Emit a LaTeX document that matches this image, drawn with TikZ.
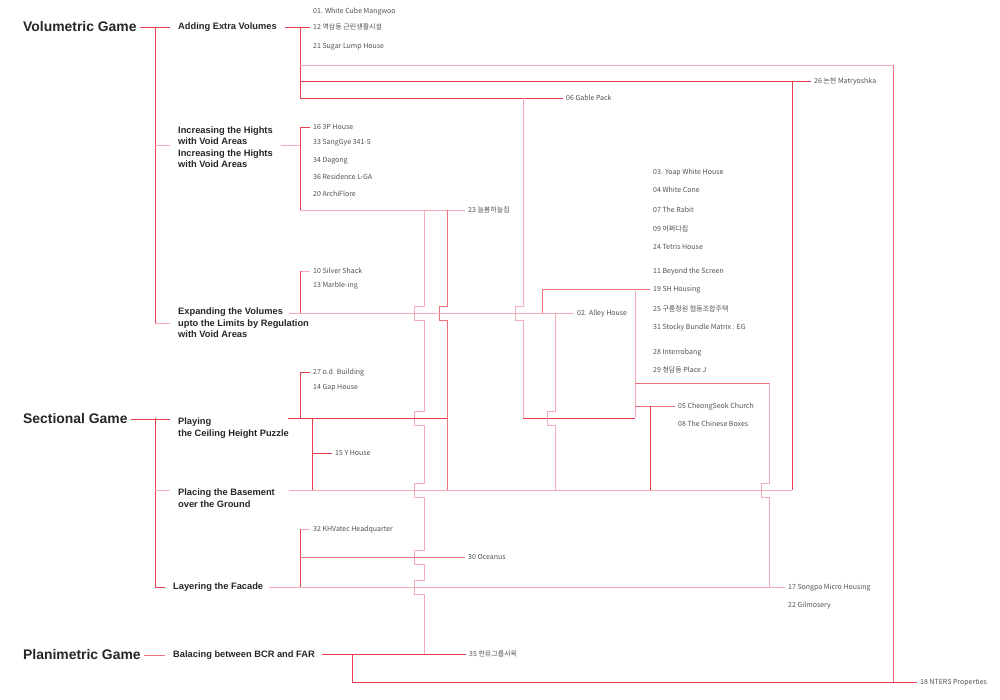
\documentclass[tikz,border=0pt]{standalone}
\usepackage{fontspec}
\setmainfont{Liberation Sans}
\newfontfamily\krfont{Noto Sans CJK KR}
\usetikzlibrary{positioning,calc}

\definecolor{strong}{RGB}{230,60,76}
\definecolor{mid}{RGB}{238,112,126}
\definecolor{soft}{RGB}{246,172,182}
\definecolor{itemgray}{RGB}{80,80,80}

\begin{document}
\begin{tikzpicture}[x=1pt, y=-1pt,
    game/.style={anchor=west, inner xsep=3pt, inner ysep=0pt, font=\bfseries\fontsize{13.9}{16}\selectfont, text=black!85},
    theme/.style={anchor=west, inner xsep=8pt, inner ysep=0pt, align=left, font=\bfseries\fontsize{9.3}{11.5}\selectfont, text=black!85},
    item/.style={anchor=west, inner xsep=3pt, inner ysep=0pt, text height=5pt, text depth=0pt, font=\krfont\fontsize{7}{8}\selectfont, text=itemgray},
    hard/.style={draw=strong, line width=1pt},
    half/.style={draw=mid, line width=1pt},
    faint/.style={draw=soft, line width=1pt}
]
\useasboundingbox (0,0) rectangle (1000,699);

% games
\node[game] (vol) at (20,27) {Volumetric Game};
\node[game] (sec) at (20,419) {Sectional Game};
\node[game] (pla) at (20,655) {Planimetric Game};

% themes
\node[theme] (add) at (170,27) {Adding Extra Volumes};
\node[theme] (inc) at (170,147) {Increasing the Hights\\with Void Areas\\Increasing the Hights\\with Void Areas};
\node[theme] (exp) at (170,323) {Expanding the Volumes\\upto the Limits by Regulation\\with Void Areas};
\node[theme] (ply) at (170,428) {Playing\\the Ceiling Height Puzzle};
\node[theme] (bas) at (170,498) {Placing the Basement\\over the Ground};
\node[theme] (fac) at (165,587) {Layering the Facade};
\node[theme] (bal) at (165,655) {Balacing between BCR and FAR};

% projects
\node[item] (p01) at (310,11) {01. White Cube Mangwoo};
\node[item] (p12) at (310,27) {12 역삼동 근린생활시설};
\node[item] (p21) at (310,46) {21 Sugar Lump House};
\node[item] (p26) at (811,81) {26 논현 Matryoshka};
\node[item] (p06) at (563,98) {06 Gable Pack};
\node[item] (p16) at (310,127) {16 3P House};
\node[item] (p33) at (310,142) {33 SangGye 341-5};
\node[item] (p34) at (310,160) {34 Dagong};
\node[item] (p36) at (310,177) {36 Residence L-GA};
\node[item] (p20) at (310,194) {20 ArchiFlore};
\node[item] (p23) at (465,210) {23 늘봄하늘집};
\node[item] (p10) at (310,271) {10 Silver Shack};
\node[item] (p13) at (310,285) {13 Marble-ing};
\node[item] (p02) at (574,313) {02. Alley House};
\node[item] (p03) at (650,172) {03. Yoap White House};
\node[item] (p04) at (650,190) {04 White Cone};
\node[item] (p07) at (650,210) {07 The Rabit};
\node[item] (p09) at (650,229) {09 어쩌다집};
\node[item] (p24) at (650,247) {24 Tetris House};
\node[item] (p11) at (650,271) {11 Beyond the Screen};
\node[item] (p19) at (650,289) {19 SH Housing};
\node[item] (p25) at (650,309) {25 구름정원 협동조합주택};
\node[item] (p31) at (650,327) {31 Stocky Bundle Matrix : EG};
\node[item] (p28) at (650,352) {28 Interrobang};
\node[item] (p29) at (650,370) {29 청담동 Place J};
\node[item] (p27) at (310,372) {27 o.d. Building};
\node[item] (p14) at (310,387) {14 Gap House};
\node[item] (p05) at (675,406) {05 CheongSeok Church};
\node[item] (p08) at (675,424) {08 The Chinese Boxes};
\node[item] (p15) at (332,453) {15 Y House};
\node[item] (p32) at (310,529) {32 KHVatec Headquarter};
\node[item] (p30) at (465,557) {30 Oceanus};
\node[item] (p17) at (785,587) {17 Songpa Micro Housing};
\node[item] (p22) at (785,605) {22 Gilmosery};
\node[item] (p35) at (466,654) {35 한유그룹사옥};
\node[item] (p18) at (917,682) {18 NTERS Properties};

% junctions
\coordinate (volS) at (155,27);
\coordinate (secS) at (155,418);
\coordinate (addR) at (300,27);
\coordinate (addB) at (300,98);
\coordinate (ntrT) at (893,65);
\coordinate (matJ) at (792,81);
\coordinate (gabJ) at (523,98);
\coordinate (gabE) at (523,418);
\coordinate (incR) at (300,145);
\coordinate (incB) at (300,210);
\coordinate (hA) at (424,210);
\coordinate (hB) at (447,210);
\coordinate (expR) at (289,313);
\coordinate (expJ) at (300,313);
\coordinate (alyJ) at (542,313);
\coordinate (alyC) at (555,313);
\coordinate (shJ) at (635,289);
\coordinate (pjJ) at (635,383);
\coordinate (spT) at (769,383);
\coordinate (alyB) at (635,418);
\coordinate (chJ) at (650,406);
\coordinate (plyR) at (288,418);
\coordinate (plyJ) at (300,418);
\coordinate (yJ) at (312,418);
\coordinate (basR) at (289,490);
\coordinate (basE) at (792,490);
\coordinate (facR) at (269,587);
\coordinate (facJ) at (300,587);
\coordinate (balR) at (322,654);
\coordinate (balJ) at (352,654);

% game spines
\draw[hard] (vol.east) -- (add.west);
\draw[hard] (volS) -- (volS |- exp.west);
\draw[faint] (volS |- incR) -- (inc.west |- incR);
\draw[faint] (volS |- exp.west) -- (exp.west);
\draw[hard] (sec.east) -- (sec.east -| ply.west);
\draw[hard] (secS) -- (secS |- fac.west) -- (fac.west);
\draw[faint] (secS |- basR) -- (bas.west |- basR);
\draw[half] (pla.east) -- (bal.west);

% adding extra volumes
\draw[hard] (add.east) -- (p12.west);
\draw[hard] (addR) -- (addB) -- (p06.west);
\draw[hard] (addR |- p26.west) -- (p26.west);
\draw[faint] (addR |- ntrT) -- (ntrT);
\draw[half] (ntrT) -- (ntrT |- p18.west);
\draw[hard] (matJ) -- (basE);
\draw[faint] (gabJ) -- ([yshift=7pt]gabJ |- expR) -- ++(-8,0) -- ++(0,14) -- ++(8,0) -- (gabE);
\draw[hard] (gabE) -- (alyB);

% increasing the hights
\draw[faint] (inc.east |- incR) -- (incR);
\draw[hard] (p16.west) -| (incB);
\draw[faint] (incB) -- (p23.west);
\draw[faint] (hA) -- ([yshift=7pt]hA |- expR) -- ++(-10,0) -- ++(0,14) -- ++(10,0)
    -- ([yshift=7pt]hA |- plyR) -- ++(-10,0) -- ++(0,14) -- ++(10,0)
    -- ([yshift=7pt]hA |- basR) -- ++(-10,0) -- ++(0,14) -- ++(10,0)
    -- ([yshift=7pt]hA |- p30.west) -- ++(-10,0) -- ++(0,14) -- ++(10,0)
    -- ([yshift=7pt]hA |- facR) -- ++(-10,0) -- ++(0,14) -- ++(10,0)
    -- (hA |- balR);
\draw[half] (hB) -- ([yshift=7pt]hB |- expR) -- ++(-8,0) -- ++(0,14) -- ++(8,0) -- (hB |- basR);

% expanding the volumes
\draw[faint] (expR) -- (p02.west);
\draw[faint] (p10.west) -- (p10.west -| expJ);
\draw[hard] (p10.west -| expJ) -- (expJ);
\draw[half] (alyJ) |- (p19.west);
\draw[faint] (shJ) -- (alyB);
\draw[half] (pjJ) -- (spT);
\draw[half] (pjJ |- p05.west) -- (p05.west);
\draw[hard] (chJ) -- (chJ |- basE);
\draw[faint] (alyC) -- ([yshift=7pt]alyC |- alyB) -- ++(-8,0) -- ++(0,14) -- ++(8,0) -- (alyC |- basR);
\draw[faint] (spT) -- ([yshift=7pt]spT |- basR) -- ++(-8,0) -- ++(0,14) -- ++(8,0) -- (spT |- facR);

% playing the ceiling height
\draw[hard] (plyR) -- (hB |- plyR);
\draw[hard] (p27.west) -| (plyJ);
\draw[hard] (yJ) -- (yJ |- basR);
\draw[hard] (yJ |- p15.west) -- (p15.west);

% basement
\draw[faint] (basR) -- (basE);

% facade
\draw[faint] (facR) -- (p17.west);
\draw[faint] (p32.west) -- (p32.west -| facJ);
\draw[hard] (p32.west -| facJ) -- (facJ);
\draw[half] (facJ |- p30.west) -- (p30.west);

% BCR and FAR
\draw[hard] (balR) -- (p35.west);
\draw[hard] (balJ) |- (p18.west);
\end{tikzpicture}
\end{document}
